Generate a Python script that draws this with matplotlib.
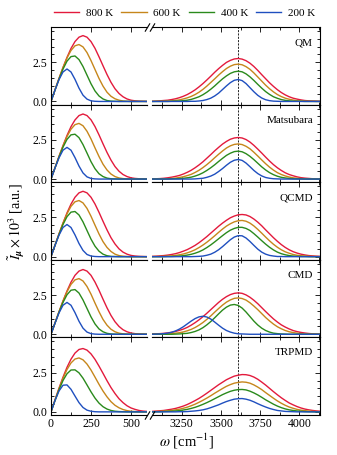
import matplotlib.pyplot as plt
from matplotlib.ticker import MultipleLocator, FormatStrFormatter

plt.rcParams["font.family"] = "serif"
plt.rcParams["font.serif"] = ["Liberation Serif", "DejaVu Serif"]
plt.rcParams["mathtext.fontset"] = "stix"

METHODS = ["QM", "Matsubara", "QCMD", "CMD", "TRPMD"]
TEMPS = ["800 K", "600 K", "400 K", "200 K"]
COLORS = ["#e31a3c", "#c6861b", "#2a8a1c", "#1f4fbf"]
REF_LINE = 3610  # cm^-1, dashed line in the stretch region

# sampled frequency grids (cm^-1)
OMEGA_LOW = [0, 25, 50, 75, 100, 125, 150, 175, 200, 225, 250, 275, 300,
             325, 350, 375, 400, 425, 450, 475, 500, 525, 550, 575, 600]
OMEGA_HIGH = [3060, 3085, 3110, 3135, 3160, 3185, 3210, 3235, 3260, 3285,
              3310, 3335, 3360, 3385, 3410, 3435, 3460, 3485, 3510, 3535,
              3560, 3585, 3610, 3635, 3660, 3685, 3710, 3735, 3760, 3785,
              3810, 3835, 3860, 3885, 3910, 3935, 3960, 3985, 4010, 4035,
              4060, 4085, 4110, 4135]

# intensities (x 10^3), order: 800 K, 600 K, 400 K, 200 K
QM_LOW = [
    [0, .73, 1.46, 2.16, 2.81, 3.38, 3.82, 4.10, 4.20, 4.10, 3.82, 3.39, 2.85, 2.28, 1.72, 1.22, .81, .51, .30, .16, .08, .04, .02, .01, 0],
    [0, .74, 1.47, 2.16, 2.77, 3.25, 3.55, 3.63, 3.48, 3.12, 2.61, 2.04, 1.47, .98, .59, .33, .17, .08, .03, .01, 0, 0, 0, 0, 0],
    [0, .72, 1.42, 2.06, 2.57, 2.86, 2.90, 2.67, 2.23, 1.68, 1.13, .67, .35, .16, .06, .02, .01, 0, 0, 0, 0, 0, 0, 0, 0],
    [0, .72, 1.39, 1.88, 2.07, 1.88, 1.41, .85, .40, .15, .04, .01, 0, 0, 0, 0, 0, 0, 0, 0, 0, 0, 0, 0, 0],
]
MATS_LOW = [
    [0, .72, 1.44, 2.13, 2.78, 3.34, 3.77, 4.05, 4.15, 4.05, 3.78, 3.35, 2.82, 2.25, 1.70, 1.21, .80, .50, .29, .16, .08, .04, .02, .01, 0],
    [0, .72, 1.44, 2.11, 2.71, 3.18, 3.47, 3.55, 3.40, 3.05, 2.56, 1.99, 1.44, .95, .58, .32, .16, .07, .03, .01, 0, 0, 0, 0, 0],
    [0, .71, 1.40, 2.03, 2.53, 2.82, 2.86, 2.64, 2.20, 1.66, 1.11, .66, .34, .16, .06, .02, .01, 0, 0, 0, 0, 0, 0, 0, 0],
    [0, .70, 1.35, 1.84, 2.02, 1.84, 1.37, .83, .39, .14, .04, .01, 0, 0, 0, 0, 0, 0, 0, 0, 0, 0, 0, 0, 0],
]
QCMD_LOW = [
    [0, .73, 1.45, 2.14, 2.79, 3.35, 3.79, 4.07, 4.17, 4.07, 3.79, 3.36, 2.83, 2.26, 1.71, 1.21, .81, .50, .29, .16, .08, .04, .02, .01, 0],
    [0, .73, 1.45, 2.13, 2.73, 3.21, 3.50, 3.58, 3.43, 3.08, 2.58, 2.01, 1.45, .96, .59, .33, .16, .07, .03, .01, 0, 0, 0, 0, 0],
    [0, .72, 1.41, 2.05, 2.55, 2.84, 2.88, 2.66, 2.22, 1.67, 1.12, .67, .35, .16, .06, .02, .01, 0, 0, 0, 0, 0, 0, 0, 0],
    [0, .71, 1.37, 1.86, 2.05, 1.86, 1.39, .84, .40, .14, .04, .01, 0, 0, 0, 0, 0, 0, 0, 0, 0, 0, 0, 0, 0],
]
CMD_LOW = [
    [0, .72, 1.43, 2.12, 2.76, 3.32, 3.76, 4.03, 4.13, 4.03, 3.76, 3.33, 2.81, 2.24, 1.69, 1.20, .80, .50, .29, .16, .08, .04, .02, .01, 0],
    [0, .72, 1.44, 2.11, 2.71, 3.18, 3.47, 3.55, 3.40, 3.05, 2.56, 1.99, 1.44, .95, .58, .32, .16, .07, .03, .01, 0, 0, 0, 0, 0],
    [0, .71, 1.40, 2.03, 2.52, 2.81, 2.85, 2.63, 2.19, 1.65, 1.11, .66, .34, .16, .06, .02, .01, 0, 0, 0, 0, 0, 0, 0, 0],
    [0, .70, 1.36, 1.85, 2.03, 1.85, 1.38, .83, .39, .14, .04, .01, 0, 0, 0, 0, 0, 0, 0, 0, 0, 0, 0, 0, 0],
]
TRPMD_LOW = [
    [0, .76, 1.51, 2.21, 2.84, 3.36, 3.75, 3.98, 4.04, 3.94, 3.70, 3.35, 2.92, 2.46, 1.99, 1.55, 1.17, .84, .59, .39, .25, .16, .09, .05, .03],
    [0, .75, 1.47, 2.14, 2.70, 3.12, 3.37, 3.44, 3.32, 3.05, 2.67, 2.22, 1.76, 1.33, .96, .65, .42, .26, .15, .08, .04, .02, .01, 0, 0],
    [0, .72, 1.40, 2.00, 2.43, 2.67, 2.68, 2.49, 2.15, 1.72, 1.28, .88, .56, .33, .18, .09, .04, .02, .01, 0, 0, 0, 0, 0, 0],
    [0, .72, 1.33, 1.70, 1.72, 1.44, 1.01, .59, .28, .11, .04, .01, 0, 0, 0, 0, 0, 0, 0, 0, 0, 0, 0, 0, 0],
]

QM_HIGH = [
    [.01, .02, .04, .06, .08, .12, .17, .24, .33, .44, .58, .74, .93, 1.14, 1.37, 1.61, 1.86, 2.09, 2.30, 2.49, 2.62, 2.71,
     2.74, 2.70, 2.60, 2.44, 2.23, 1.98, 1.71, 1.45, 1.19, .96, .75, .57, .42, .30, .21, .15, .10, .06, .04, .03, .02, .01],
    [0, .01, .01, .02, .03, .04, .07, .10, .16, .23, .32, .44, .59, .77, .98, 1.21, 1.44, 1.68, 1.90, 2.10, 2.25, 2.35,
     2.38, 2.34, 2.22, 2.05, 1.82, 1.56, 1.30, 1.04, .81, .61, .44, .31, .21, .14, .09, .05, .03, .02, .01, .01, 0, 0],
    [0, 0, 0, 0, 0, .01, .02, .03, .05, .08, .13, .21, .30, .43, .59, .78, .99, 1.22, 1.44, 1.63, 1.79, 1.89,
     1.93, 1.89, 1.76, 1.57, 1.34, 1.09, .85, .63, .45, .30, .20, .12, .07, .04, .02, .01, .01, 0, 0, 0, 0, 0],
    [0, 0, 0, 0, 0, 0, 0, 0, 0, 0, .01, .01, .03, .06, .12, .21, .35, .53, .76, .99, 1.20, 1.35,
     1.40, 1.33, 1.14, .88, .62, .39, .22, .11, .05, .02, .01, 0, 0, 0, 0, 0, 0, 0, 0, 0, 0, 0],
]
MATS_HIGH = [
    [.01, .02, .03, .05, .08, .12, .17, .23, .32, .43, .56, .72, .90, 1.10, 1.33, 1.56, 1.80, 2.02, 2.23, 2.40, 2.54, 2.62,
     2.65, 2.62, 2.52, 2.36, 2.15, 1.91, 1.66, 1.40, 1.15, .92, .72, .55, .40, .29, .21, .14, .09, .06, .04, .02, .01, .01],
    [0, 0, .01, .01, .02, .04, .06, .10, .15, .22, .30, .42, .56, .73, .92, 1.13, 1.36, 1.58, 1.79, 1.98, 2.12, 2.21,
     2.24, 2.20, 2.09, 1.93, 1.71, 1.47, 1.22, .98, .76, .57, .41, .29, .20, .13, .08, .05, .03, .02, .01, .01, 0, 0],
    [0, 0, 0, 0, 0, .01, .02, .03, .05, .08, .12, .19, .28, .40, .55, .72, .91, 1.12, 1.32, 1.51, 1.65, 1.75,
     1.78, 1.74, 1.62, 1.45, 1.24, 1.01, .78, .58, .41, .28, .18, .11, .07, .04, .02, .01, .01, 0, 0, 0, 0, 0],
    [0, 0, 0, 0, 0, 0, 0, 0, 0, 0, 0, .01, .03, .05, .11, .19, .31, .48, .67, .88, 1.07, 1.20,
     1.25, 1.19, 1.02, .79, .55, .35, .20, .10, .05, .02, .01, 0, 0, 0, 0, 0, 0, 0, 0, 0, 0, 0],
]
QCMD_HIGH = [
    [.02, .03, .05, .07, .10, .14, .19, .26, .35, .45, .58, .72, .89, 1.08, 1.28, 1.50, 1.72, 1.94, 2.14, 2.32, 2.48, 2.59, 2.67,
     2.69, 2.66, 2.56, 2.40, 2.20, 1.97, 1.71, 1.46, 1.21, .98, .77, .59, .44, .32, .23, .16, .11, .07, .05, .03, .02],
    [0, .01, .01, .02, .03, .05, .08, .12, .17, .24, .33, .44, .58, .74, .92, 1.12, 1.33, 1.55, 1.76, 1.95, 2.10, 2.22, 2.29,
     2.31, 2.26, 2.14, 1.96, 1.74, 1.50, 1.25, 1.01, .79, .60, .44, .31, .22, .14, .09, .06, .04, .02, .01, .01, 0],
    [0, 0, 0, 0, .01, .01, .02, .04, .06, .10, .15, .22, .31, .43, .58, .75, .94, 1.14, 1.34, 1.53, 1.69, 1.80, 1.87,
     1.87, 1.80, 1.67, 1.47, 1.25, 1.02, .80, .60, .43, .29, .19, .12, .07, .04, .02, .01, .01, 0, 0, 0, 0],
    [0, 0, 0, 0, 0, 0, 0, 0, 0, 0, 0, .01, .02, .04, .09, .16, .28, .44, .64, .86, 1.08, 1.25, 1.34,
     1.33, 1.19, .97, .72, .48, .29, .16, .08, .04, .01, .01, 0, 0, 0, 0, 0, 0, 0, 0, 0, 0],
]
CMD_HIGH = [
    [.02, .03, .04, .06, .09, .12, .18, .25, .33, .44, .58, .74, .92, 1.12, 1.34, 1.57, 1.80, 2.03, 2.23, 2.40, 2.53, 2.61,
     2.64, 2.61, 2.51, 2.36, 2.17, 1.95, 1.70, 1.45, 1.21, .98, .78, .60, .46, .34, .24, .17, .12, .08, .05, .03, .02, .01],
    [0, .01, .01, .02, .03, .04, .07, .10, .15, .22, .31, .43, .58, .75, .95, 1.17, 1.41, 1.64, 1.86, 2.05, 2.19, 2.29,
     2.32, 2.28, 2.18, 2.01, 1.80, 1.57, 1.32, 1.07, .85, .65, .48, .35, .24, .16, .11, .07, .04, .02, .01, .01, 0, 0],
    [0, 0, 0, 0, 0, 0, .01, .02, .04, .06, .11, .18, .28, .42, .60, .81, 1.05, 1.30, 1.54, 1.73, 1.86,
     1.90, 1.84, 1.67, 1.42, 1.13, .84, .59, .39, .24, .14, .07, .04, .02, .01, 0, 0, 0, 0, 0, 0, 0, 0, 0],
    [0, .01, .02, .04, .07, .13, .21, .33, .48, .66, .84, 1.00, 1.11,
     1.15, 1.10, .97, .78, .58, .39, .24, .14, .07, .03, .02, .01,
     0, 0, 0, 0, 0, 0, 0, 0, 0, 0, 0, 0, 0, 0, 0, 0, 0, 0, 0],
]
TRPMD_HIGH = [
    [.03, .05, .07, .09, .13, .17, .22, .29, .37, .47, .59, .72, .86, 1.02, 1.19, 1.37, 1.55, 1.73, 1.89, 2.05, 2.17, 2.28, 2.34, 2.38,
     2.37, 2.32, 2.22, 2.08, 1.90, 1.71, 1.50, 1.29, 1.09, .90, .73, .57, .45, .34, .25, .18, .13, .09, .06, .04],
    [.01, .02, .03, .05, .07, .09, .13, .17, .23, .30, .39, .49, .61, .74, .88, 1.03, 1.19, 1.34, 1.49, 1.63, 1.74, 1.83, 1.88, 1.91,
     1.89, 1.83, 1.72, 1.58, 1.42, 1.23, 1.05, .87, .70, .55, .42, .31, .23, .16, .11, .08, .05, .03, .02, .01],
    [0, .01, .01, .02, .03, .04, .06, .08, .12, .16, .22, .29, .38, .48, .59, .71, .84, .97, 1.10, 1.21, 1.31, 1.38, 1.42,
     1.43, 1.40, 1.32, 1.21, 1.08, .93, .77, .63, .49, .37, .27, .19, .13, .09, .06, .04, .02, .01, .01, 0, 0],
    [0, 0, 0, 0, 0, 0, 0, .01, .01, .02, .04, .06, .09, .13, .19, .27, .36, .45, .56, .66, .74, .81, .84,
     .85, .81, .74, .64, .52, .41, .31, .22, .15, .09, .06, .03, .02, .01, 0, 0, 0, 0, 0, 0, 0],
]

LOW = [QM_LOW, MATS_LOW, QCMD_LOW, CMD_LOW, TRPMD_LOW]
HIGH = [QM_HIGH, MATS_HIGH, QCMD_HIGH, CMD_HIGH, TRPMD_HIGH]


def style_axis(ax, side):
    for s in ax.spines.values():
        s.set_linewidth(0.8)
    ax.set_ylim(-0.2, 4.75)
    ax.yaxis.set_major_locator(MultipleLocator(2.5))
    ax.yaxis.set_minor_locator(MultipleLocator(0.5))
    ax.xaxis.set_major_locator(MultipleLocator(250))
    ax.xaxis.set_minor_locator(MultipleLocator(125))
    ax.tick_params(which="both", direction="in", top=True, bottom=True,
                   width=0.6, labelsize=8.5, pad=2.5)
    ax.tick_params(which="major", length=3.5)
    ax.tick_params(which="minor", length=2)
    if side == "left":
        ax.spines["right"].set_visible(False)
        ax.tick_params(axis="y", which="both", left=True, right=False)
        ax.yaxis.set_major_formatter(FormatStrFormatter("%.1f"))
    else:
        ax.spines["left"].set_visible(False)
        ax.tick_params(axis="y", which="both", left=False, right=True,
                       labelleft=False)


fig = plt.figure(figsize=(3.37, 4.55), dpi=100)
gs = fig.add_gridspec(5, 2, width_ratios=[96, 168.5], left=0.1513, right=0.951,
                      top=0.9407, bottom=0.0879, wspace=0.0378, hspace=0)

axes = []
for row, name in enumerate(METHODS):
    ax_l = fig.add_subplot(gs[row, 0])
    ax_r = fig.add_subplot(gs[row, 1])
    for k in range(4):
        ax_l.plot(OMEGA_LOW, LOW[row][k], color=COLORS[k], lw=1.0, label=TEMPS[k])
        ax_r.plot(OMEGA_HIGH, HIGH[row][k], color=COLORS[k], lw=1.0)
    ax_r.axvline(REF_LINE, color="k", lw=0.6, ls=(0, (2.5, 1.5)), zorder=0.5)
    ax_l.set_xlim(0, 600)
    ax_r.set_xlim(3060, 4135)
    style_axis(ax_l, "left")
    style_axis(ax_r, "right")
    if row < len(METHODS) - 1:
        ax_l.tick_params(labelbottom=False)
        ax_r.tick_params(labelbottom=False)
    ax_r.text(0.955, 0.80, name, transform=ax_r.transAxes, ha="right",
              va="center", fontsize=8)
    axes.append((ax_l, ax_r))

# axis-break marks at top and bottom
d = 0.6
kw = dict(marker=[(-d, -1), (d, 1)], markersize=6, linestyle="none",
          color="k", mec="k", mew=0.8, clip_on=False)
axes[0][0].plot([1], [1], transform=axes[0][0].transAxes, **kw)
axes[0][1].plot([0], [1], transform=axes[0][1].transAxes, **kw)
axes[-1][0].plot([1], [0], transform=axes[-1][0].transAxes, **kw)
axes[-1][1].plot([0], [0], transform=axes[-1][1].transAxes, **kw)

handles, labels = axes[0][0].get_legend_handles_labels()
fig.legend(handles, labels, loc="center", bbox_to_anchor=(0.548, 0.971), ncol=4,
           frameon=False, fontsize=8, handlelength=2.3, handletextpad=0.6,
           columnspacing=0.7)

fig.text(0.05, 0.514, r"$\tilde{I}_{\boldsymbol{\mu}} \times 10^3$ [a.u.]",
         rotation=90, ha="center", va="center", fontsize=10)
fig.text(0.553, 0.030, r"$\omega$ [cm$^{-1}$]", ha="center", va="center",
         fontsize=10.5)

fig.savefig("out.png", dpi=100)
